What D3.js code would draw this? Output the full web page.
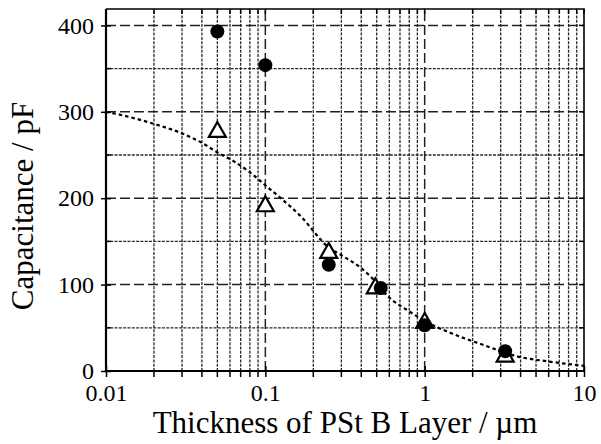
<!DOCTYPE html>
<html>
<head>
<meta charset="utf-8">
<script src="https://cdn.jsdelivr.net/npm/d3@7"></script>
<style>
    body { margin: 0; background: white; }
    text { font-family: "Liberation Serif", "Times New Roman", serif; fill: black; }
</style>
</head>
<body>
<svg id="chart" width="601" height="444"></svg>
<script>

// data
var circleX = [0.05, 0.1, 0.25, 0.53, 1, 3.2];
var circleY = [393, 354, 123, 96, 53, 23];

var triangleX = [0.05, 0.1, 0.25, 0.49, 1, 3.2];
var triangleY = [279, 193, 139, 98, 58, 19];

var curveX = [0.01, 0.012, 0.02, 0.03, 0.04, 0.05, 0.063, 0.08, 0.1, 0.125, 0.165, 0.25, 0.3, 0.4, 0.46, 0.6, 0.8, 1, 1.5, 2.35, 3.8, 6, 10];
var curveY = [300, 297, 286, 275, 264, 253, 243, 230, 215, 200, 180, 143, 134, 119, 109, 85, 69, 58, 43, 30, 17, 11, 6];

var xTicks = [0.01, 0.1, 1, 10];
var yTicks = [0, 100, 200, 300, 400];
var yMinor = [50, 150, 250, 350];


var svg = d3.select("#chart");

// plot box (don't call these top/left, window.top is taken)
var pLeft = 106, pRight = 584, pTop = 9, pBottom = 371;

var x = d3.scaleLog().domain([0.01, 10]).range([pLeft, pRight]);
var y = d3.scaleLinear().domain([0, 419]).range([pBottom, pTop]);

// minor x positions 2..9 in every decade
var xMinor = [];
xTicks.slice(0, 3).forEach(function (d) {
    for (var k = 2; k <= 9; k++) xMinor.push(d * k);
});


//grid
var grid = svg.append("g");

grid.selectAll(".vminor")
    .data(xMinor)
    .enter()
    .append("line")
    .attr("x1", function (d) { return x(d); })
    .attr("x2", function (d) { return x(d); })
    .attr("y1", pBottom)
    .attr("y2", pTop)
    .attr("stroke", "#2a2a2a")
    .attr("stroke-width", 1.3)
    .attr("stroke-dasharray", "3,1.3");

grid.selectAll(".hminor")
    .data(yMinor)
    .enter()
    .append("line")
    .attr("x1", pLeft)
    .attr("x2", pRight)
    .attr("y1", function (d) { return y(d); })
    .attr("y2", function (d) { return y(d); })
    .attr("stroke", "#2a2a2a")
    .attr("stroke-width", 1.3)
    .attr("stroke-dasharray", "3,1.3");

grid.selectAll(".vmajor")
    .data(xTicks.slice(1, 3))
    .enter()
    .append("line")
    .attr("x1", function (d) { return x(d); })
    .attr("x2", function (d) { return x(d); })
    .attr("y1", pBottom)
    .attr("y2", pTop)
    .attr("stroke", "#222")
    .attr("stroke-width", 1.5)
    .attr("stroke-dasharray", "10,4");

grid.selectAll(".hmajor")
    .data(yTicks.slice(1))
    .enter()
    .append("line")
    .attr("x1", pLeft)
    .attr("x2", pRight)
    .attr("y1", function (d) { return y(d); })
    .attr("y2", function (d) { return y(d); })
    .attr("stroke", "#222")
    .attr("stroke-width", 1.5)
    .attr("stroke-dasharray", "10,4");


//frame
svg.append("path")
    .attr("d", "M " + pLeft + " " + pTop + " H " + pRight + " V " + pBottom)
    .attr("fill", "none")
    .attr("stroke", "black")
    .attr("stroke-width", 1.6);


//axes
var xAxis = d3.axisBottom(x)
    .tickValues(xTicks)
    .tickFormat(function (d) { return String(d); })
    .tickSize(6)
    .tickPadding(7);

var gx = svg.append("g")
    .attr("transform", "translate(0," + pBottom + ")")
    .call(xAxis);

gx.select(".domain").remove();
gx.selectAll(".tick line").attr("y1", -5).attr("stroke-width", 1.5);
gx.selectAll(".tick text")
    .attr("font-size", 24);

gx.selectAll(".minortick")
    .data(xMinor)
    .enter()
    .append("line")
    .attr("x1", function (d) { return x(d); })
    .attr("x2", function (d) { return x(d); })
    .attr("y1", 0)
    .attr("y2", 6)
    .attr("stroke", "black")
    .attr("stroke-width", 1.5);

var yAxis = d3.axisLeft(y)
    .tickValues(yTicks)
    .tickSize(5)
    .tickPadding(7);

var gy = svg.append("g")
    .attr("transform", "translate(" + pLeft + ",0)")
    .call(yAxis);

gy.select(".domain").remove();
gy.selectAll(".tick line").attr("x2", 5).attr("x1", -5).attr("stroke-width", 1.5);
gy.selectAll(".tick text")
    .attr("font-size", 24);

gy.selectAll(".minortick")
    .data(yMinor)
    .enter()
    .append("line")
    .attr("x1", 0)
    .attr("x2", 5)
    .attr("y1", function (d) { return y(d); })
    .attr("y2", function (d) { return y(d); })
    .attr("stroke", "black")
    .attr("stroke-width", 1.5);

// ticks on right and top, pointing in
svg.selectAll(".rtick")
    .data(yTicks.concat(yMinor))
    .enter()
    .append("line")
    .attr("x1", pRight - 5)
    .attr("x2", pRight)
    .attr("y1", function (d) { return y(d); })
    .attr("y2", function (d) { return y(d); })
    .attr("stroke", "black")
    .attr("stroke-width", 1.5);

svg.selectAll(".ttick")
    .data(xMinor.concat(xTicks))
    .enter()
    .append("line")
    .attr("x1", function (d) { return x(d); })
    .attr("x2", function (d) { return x(d); })
    .attr("y1", pTop)
    .attr("y2", pTop + 5)
    .attr("stroke", "black")
    .attr("stroke-width", 1.5);

// left and bottom axis lines
svg.append("path")
    .attr("d", "M " + pLeft + " " + pTop + " V " + pBottom + " H " + pRight)
    .attr("fill", "none")
    .attr("stroke", "black")
    .attr("stroke-width", 2.2);


//curve
var line = d3.line()
    .x(function (d, i) { return x(curveX[i]); })
    .y(function (d) { return y(d); })
    .curve(d3.curveMonotoneX);

svg.append("path")
    .attr("d", line(curveY))
    .attr("fill", "none")
    .attr("stroke", "black")
    .attr("stroke-width", 2.2)
    .attr("stroke-dasharray", "3.5,3");


//triangles
svg.selectAll(".tri")
    .data(triangleY)
    .enter()
    .append("path")
    .attr("transform", function (d, i) { return "translate(" + x(triangleX[i]) + "," + y(d) + ")"; })
    .attr("d", "M 0 -8 L 8.5 7 L -8.5 7 Z")
    .attr("fill", "white")
    .attr("stroke", "black")
    .attr("stroke-width", 2.2)
    .attr("stroke-linejoin", "miter");

//circles
svg.selectAll(".dot")
    .data(circleY)
    .enter()
    .append("circle")
    .attr("cx", function (d, i) { return x(circleX[i]); })
    .attr("cy", function (d) { return y(d); })
    .attr("r", 7)
    .attr("fill", "black");


//labels
svg.append("text")
    .attr("text-anchor", "middle")
    .attr("x", (pLeft + pRight) / 2)
    .attr("y", 433)
    .attr("font-size", 31)
    .text("Thickness of PSt B Layer / \u00b5m");

svg.append("text")
    .attr("text-anchor", "middle")
    .attr("transform", "translate(33,206) rotate(-90)")
    .attr("font-size", 31)
    .text("Capacitance / pF");

</script>
</body>
</html>
